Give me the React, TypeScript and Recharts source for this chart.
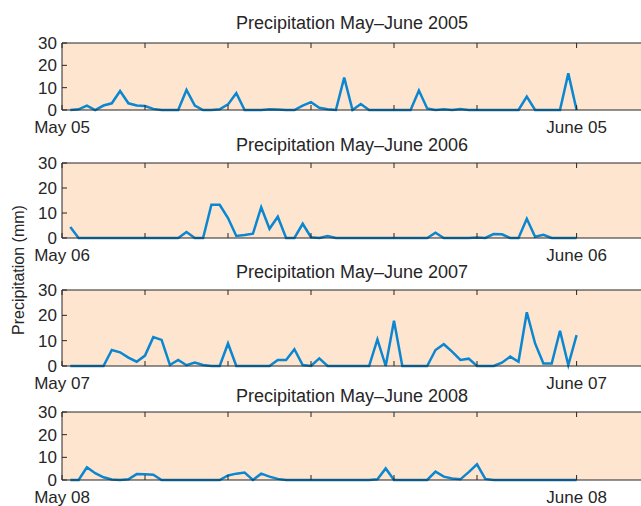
import React from "react";
import { LineChart, Line, XAxis, YAxis, CartesianGrid } from "recharts";

// half-day precipitation readings (mm), May 1 -> June 1
const rain2005 = [
  0, 0.3, 2, 0, 2, 3, 8.5, 3, 2, 1.8,
  0.5, 0, 0, 0, 9, 2, 0, 0, 0.3, 2.5,
  7.5, 0, 0, 0, 0.3, 0.2, 0, 0, 2, 3.5,
  1, 0.3, 0, 14.5, 0, 2.7, 0, 0, 0, 0,
  0, 0, 8.7, 0.7, 0, 0.3, 0, 0.4, 0, 0,
  0, 0, 0, 0, 0, 6, 0, 0, 0, 0,
  16.4, 0,
];
const rain2006 = [
  4.4, 0, 0, 0, 0, 0, 0, 0, 0, 0,
  0, 0, 0, 0, 2.4, 0, 0, 13.3, 13.3, 8,
  0.8, 1.2, 1.7, 12.3, 3.7, 8.5, 0, 0, 5.7, 0.3,
  0, 0.8, 0, 0, 0, 0, 0, 0, 0, 0,
  0, 0, 0, 0, 2.1, 0, 0, 0, 0, 0.2,
  0, 1.6, 1.5, 0, 0, 7.7, 0.5, 1.3, 0, 0,
  0, 0,
];
const rain2007 = [
  0, 0, 0, 0, 0, 6.3, 5.4, 3.3, 1.7, 4.1,
  11.4, 10.3, 0.4, 2.4, 0.3, 1.4, 0.4, 0, 0, 8.9,
  0, 0, 0, 0, 0, 2.4, 2.4, 6.6, 0.4, 0,
  3, 0, 0, 0, 0, 0, 0, 10.5, 0, 17.9,
  0, 0, 0, 0, 6.3, 8.6, 5.7, 2.4, 2.9, 0,
  0, 0, 1.3, 3.7, 1.7, 21.2, 8.9, 1, 1, 13.9,
  0.4, 12.2,
];
const rain2008 = [
  0, 0, 5.6, 3, 1.2, 0.2, 0, 0.3, 2.6, 2.5,
  2.3, 0, 0, 0, 0, 0, 0, 0, 0, 2,
  2.8, 3.3, 0, 2.8, 1.5, 0.5, 0, 0, 0, 0,
  0, 0, 0, 0, 0, 0, 0, 0.3, 5.1, 0,
  0, 0, 0, 0, 3.7, 1.5, 0.7, 0.3, 3.5, 6.9,
  0.5, 0, 0, 0, 0, 0, 0, 0, 0, 0,
  0, 0,
];

const years = ["2005", "2006", "2007", "2008"];
const series = [rain2005, rain2006, rain2007, rain2008];
const yTicks = [0, 10, 20, 30];
const xTicks = [0, 5, 10, 15, 20, 25, 31];

// plot box placement for each panel
const layout = [
  { top: 43, h: 67, title: 28.5 },
  { top: 163, h: 75, title: 150.5 },
  { top: 290, h: 76, title: 277.5 },
  { top: 412, h: 68, title: 402 },
];

const FONT = '"Liberation Sans", Arial, Helvetica, sans-serif';
const INK = "#262626";
const tickStyle = { fontSize: 17, fill: INK, fontFamily: FONT };
const PAD = 12;

const Panel = ({ idx }: { idx: number }) => {
  const yy = years[idx].slice(2);
  const data = series[idx].map((v, i) => ({ day: (i + 1) / 2, v }));
  const box = layout[idx];
  const fmt = (t: number) => (t === 0 ? `May ${yy}` : t === 31 ? `June ${yy}` : "");
  return (
    <div style={{ position: "absolute", left: 0, top: box.top - PAD }}>
      <LineChart
        width={645}
        height={box.h + PAD + 40}
        data={data}
        margin={{ top: PAD - 1, right: 0, bottom: 0, left: 0 }}
      >
        <CartesianGrid
          xAxisId="bottom"
          yAxisId="left"
          fill="#fde5cf"
          stroke="none"
          horizontal={false}
          vertical={false}
        />
        <XAxis
          xAxisId="bottom"
          dataKey="day"
          type="number"
          domain={[0, 35]}
          ticks={xTicks}
          interval={0}
          height={40}
          tickSize={-5}
          tickMargin={16}
          tickFormatter={fmt}
          tick={tickStyle}
          stroke={INK}
        />
        <XAxis
          xAxisId="top"
          orientation="top"
          dataKey="day"
          type="number"
          domain={[0, 35]}
          ticks={xTicks}
          interval={0}
          height={1}
          tickSize={-5}
          tickFormatter={() => ""}
          stroke={INK}
        />
        <YAxis
          yAxisId="left"
          domain={[0, 30]}
          ticks={yTicks}
          interval={0}
          width={62}
          tickSize={-5}
          tickMargin={10}
          tick={tickStyle}
          stroke={INK}
        />
        <YAxis
          yAxisId="right"
          orientation="right"
          domain={[0, 30]}
          ticks={yTicks}
          interval={0}
          width={2}
          tickSize={-5}
          tickFormatter={() => ""}
          stroke={INK}
        />
        <Line
          xAxisId="bottom"
          yAxisId="left"
          type="linear"
          dataKey="v"
          stroke="#0a87d0"
          strokeWidth={2.5}
          dot={false}
          isAnimationActive={false}
        />
      </LineChart>
    </div>
  );
};

export default function App() {
  return (
    <div
      style={{
        position: "absolute",
        left: 0,
        top: 0,
        width: 641,
        height: 506,
        overflow: "hidden",
        background: "#fff",
      }}
    >
      {years.map((y, i) => (
        <Panel key={y} idx={i} />
      ))}
      <svg
        width={641}
        height={506}
        style={{ position: "absolute", left: 0, top: 0, pointerEvents: "none" }}
        fontFamily={FONT}
        fill={INK}
      >
        {years.map((y, i) => (
          <text key={y} x={352} y={layout[i].title} fontSize={18} textAnchor="middle">
            {`Precipitation May–June ${y}`}
          </text>
        ))}
        <text x={24} y={270} fontSize={16} textAnchor="middle" transform="rotate(-90 24 270)">
          Precipitation (mm)
        </text>
      </svg>
    </div>
  );
}
